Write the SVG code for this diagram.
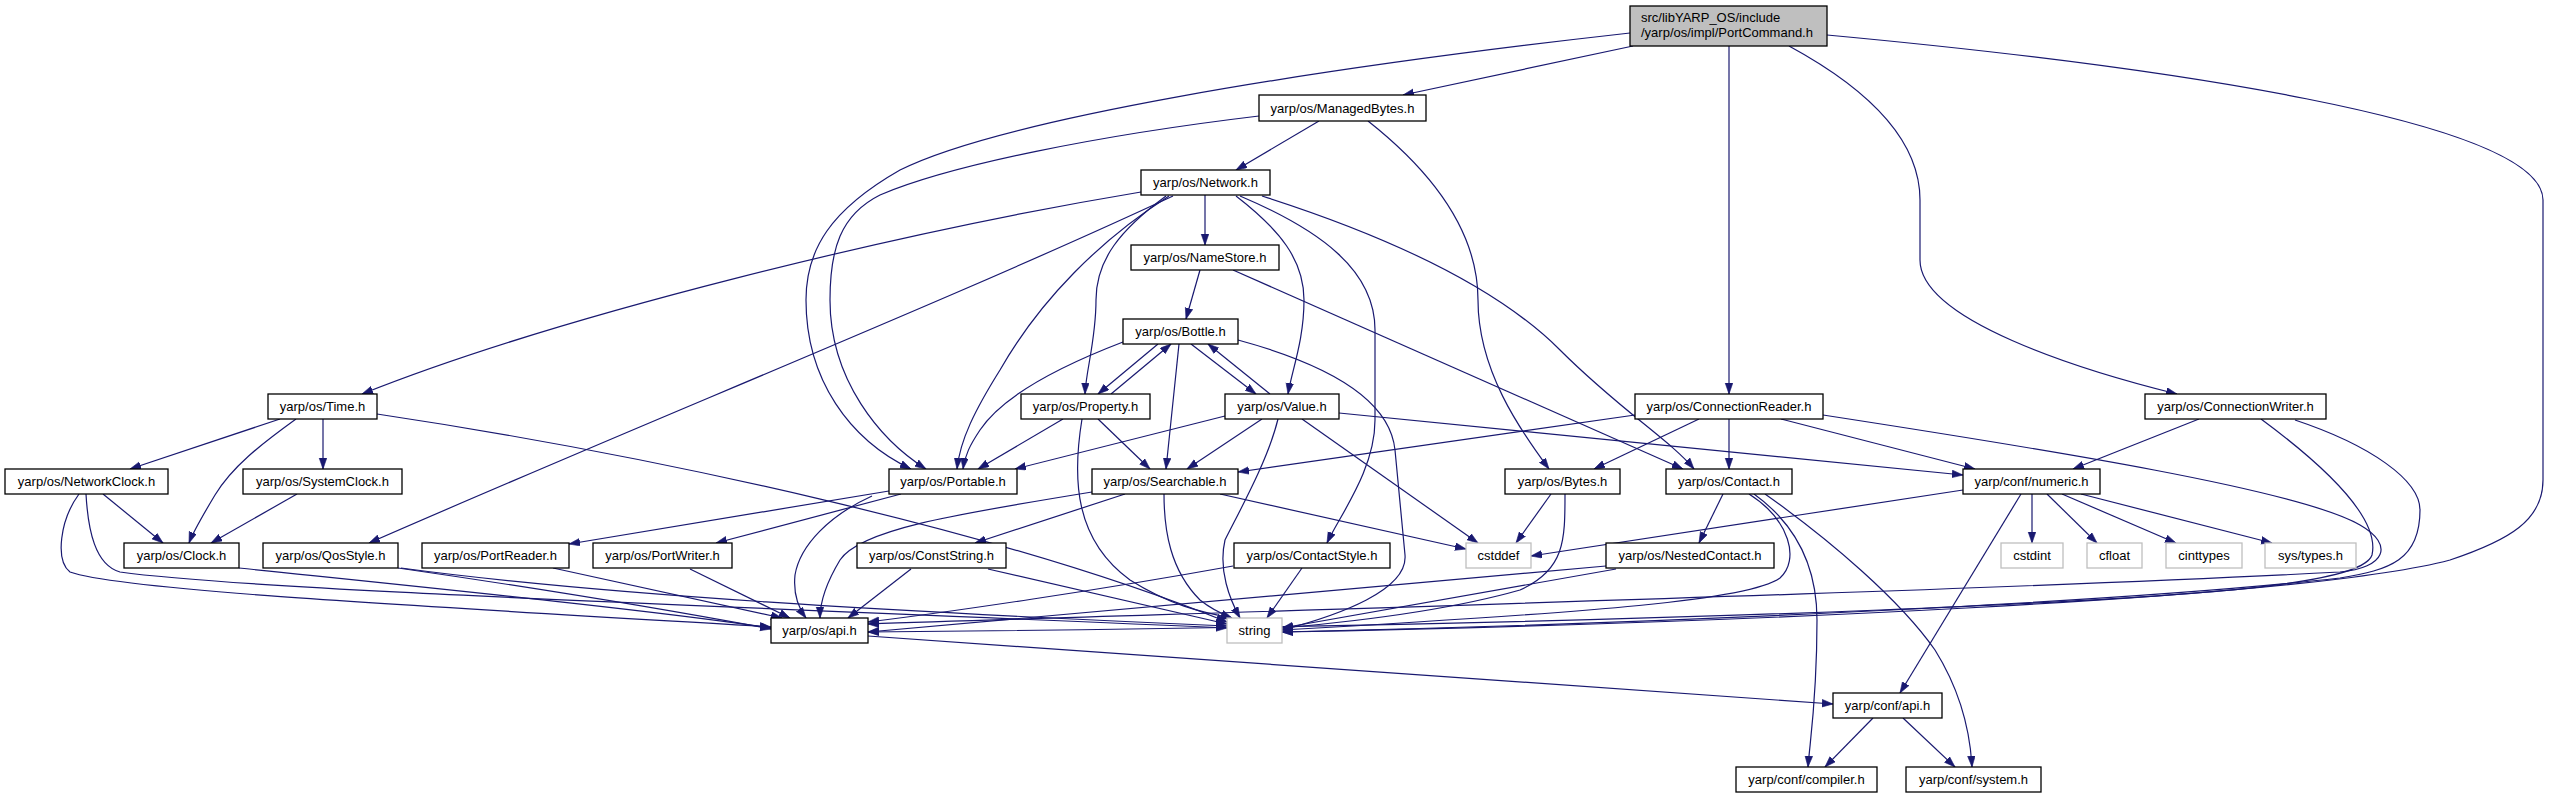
<svg xmlns="http://www.w3.org/2000/svg" width="2551" height="799" viewBox="0 0 2551 799">
<style>
.e{fill:none;stroke:#191970;stroke-width:1.2;marker-end:url(#ah)}
.n rect{fill:#fff;stroke:#000;stroke-width:1.3}
.s rect{fill:#fff;stroke:#bfbfbf;stroke-width:1.3}
.r rect{fill:#bfbfbf;stroke:#000;stroke-width:1.3}
text{font-family:"Liberation Sans",Arial,Helvetica,sans-serif;font-size:13px;fill:#000;text-anchor:middle}
.r text{text-anchor:start}
</style>
<defs>
<marker id="ah" markerWidth="12" markerHeight="9" refX="11" refY="4" orient="auto" markerUnits="userSpaceOnUse">
<path d="M0,0.2 L11,4 L0,7.8 z" fill="#191970" stroke="#191970" stroke-width="0.6"/>
</marker>
</defs>
<rect width="2551" height="799" fill="#fff"/>
<g id="connectors">
<path class="e" d="M1633,46 L1403,95"/>
<path class="e" d="M1630,33 C1300,70 1000,120 900,170 C830,210 806,250 806,300 C806,380 850,440 911,469"/>
<path class="e" d="M1729,46 L1729,394"/>
<path class="e" d="M1789,46 C1870,90 1920,140 1920,200 L1920,260 C1920,320 2080,370 2177,394"/>
<path class="e" d="M1827,35 C2150,65 2543,120 2543,200 L2543,480 C2543,520 2510,540 2450,560 C2300,600 1700,624 1282,632"/>
<path class="e" d="M1319,121 L1236,170"/>
<path class="e" d="M1259,116 C1100,135 950,165 880,195 C840,215 830,250 830,300 C830,380 880,440 926,469"/>
<path class="e" d="M1368,121 C1430,170 1478,230 1478,300 C1478,370 1520,430 1549,469"/>
<path class="e" d="M1141,192 C900,232 560,315 362,394"/>
<path class="e" d="M1173,196 C950,300 650,420 369,543"/>
<path class="e" d="M1169,196 C1100,240 1040,300 1000,370 C975,410 960,440 957,469"/>
<path class="e" d="M1166,196 C1120,230 1096,260 1096,300 C1096,340 1086,370 1085,394"/>
<path class="e" d="M1205,195 L1205,245"/>
<path class="e" d="M1236,196 C1280,230 1304,260 1304,300 C1304,340 1292,370 1288,394"/>
<path class="e" d="M1240,196 C1320,230 1375,270 1375,330 L1375,420 C1375,470 1340,515 1327,543"/>
<path class="e" d="M1262,196 C1400,240 1500,290 1560,350 C1620,410 1670,440 1694,469"/>
<path class="e" d="M1200,270 L1186,319"/>
<path class="e" d="M1233,270 L1683,469"/>
<path class="e" d="M1158,344 L1098,394"/>
<path class="e" d="M1111,394 L1171,344"/>
<path class="e" d="M1191,344 L1256,394"/>
<path class="e" d="M1270,394 L1208,344"/>
<path class="e" d="M1123,342 C1050,370 1000,400 980,430 C970,445 965,455 963,469"/>
<path class="e" d="M1179,344 L1166,469"/>
<path class="e" d="M1238,340 C1330,365 1390,400 1395,450 L1405,555 C1408,590 1340,615 1282,630"/>
<path class="e" d="M1063,419 L978,469"/>
<path class="e" d="M1098,419 L1150,469"/>
<path class="e" d="M1082,419 C1072,480 1075,540 1130,580 C1170,605 1200,612 1232,618"/>
<path class="e" d="M1225,416 L1015,469"/>
<path class="e" d="M1262,419 L1187,469"/>
<path class="e" d="M1278,419 C1268,460 1240,510 1225,540 C1218,570 1230,600 1240,618"/>
<path class="e" d="M1302,419 L1478,543"/>
<path class="e" d="M1339,413 L1963,475"/>
<path class="e" d="M1635,415 L1238,472"/>
<path class="e" d="M1699,419 L1594,469"/>
<path class="e" d="M1729,419 L1729,469"/>
<path class="e" d="M1781,419 L1975,469"/>
<path class="e" d="M1823,415 C2050,450 2300,490 2360,525 C2395,545 2385,568 2340,572 C2000,590 1300,610 868,624"/>
<path class="e" d="M2199,419 L2073,469"/>
<path class="e" d="M2261,419 C2330,470 2380,520 2372,555 C2362,585 2200,597 1880,610 C1500,625 1100,630 868,632"/>
<path class="e" d="M2295,420 C2370,445 2420,480 2420,510 C2420,560 2390,570 2340,578 C2100,605 1600,625 1282,632"/>
<path class="e" d="M1092,492 C950,515 860,530 840,560 C825,585 820,605 820,618"/>
<path class="e" d="M1125,494 L975,543"/>
<path class="e" d="M1164,494 C1164,530 1170,570 1200,600 C1210,608 1222,614 1232,618"/>
<path class="e" d="M1220,494 L1466,549"/>
<path class="e" d="M889,491 L569,544"/>
<path class="e" d="M901,494 L716,543"/>
<path class="e" d="M872,496 C830,515 800,545 795,575 C793,595 800,610 806,618"/>
<path class="e" d="M280,419 L130,469"/>
<path class="e" d="M296,419 C260,445 232,467 215,495 C200,520 192,535 189,543"/>
<path class="e" d="M323,419 L323,469"/>
<path class="e" d="M377,414 C650,455 1000,530 1227,622"/>
<path class="e" d="M103,494 L163,543"/>
<path class="e" d="M79,494 C60,520 55,560 70,572 C120,590 400,605 771,627"/>
<path class="e" d="M86,494 C88,530 95,565 120,572 C250,590 700,605 1227,628"/>
<path class="e" d="M297,494 L211,543"/>
<path class="e" d="M239,568 C450,590 650,610 771,628"/>
<path class="e" d="M398,568 C550,590 680,612 771,629"/>
<path class="e" d="M401,568 C600,595 900,612 1227,626"/>
<path class="e" d="M553,568 L782,618"/>
<path class="e" d="M690,569 L790,618"/>
<path class="e" d="M911,569 L848,618"/>
<path class="e" d="M988,569 L1227,624"/>
<path class="e" d="M1233,566 C1100,590 950,612 868,622"/>
<path class="e" d="M1302,568 L1267,618"/>
<path class="e" d="M1551,494 L1516,543"/>
<path class="e" d="M1565,494 C1565,540 1565,570 1520,590 C1450,610 1350,622 1282,628"/>
<path class="e" d="M1723,494 L1699,543"/>
<path class="e" d="M1749,494 C1790,520 1800,560 1780,578 C1750,600 1600,612 1282,630"/>
<path class="e" d="M1754,494 C1790,520 1817,560 1817,620 C1817,700 1810,740 1808,767"/>
<path class="e" d="M1765,494 C1830,540 1900,600 1935,650 C1960,690 1970,730 1972,767"/>
<path class="e" d="M1606,566 L868,632"/>
<path class="e" d="M1616,569 L1282,628"/>
<path class="e" d="M1963,490 L1531,556"/>
<path class="e" d="M2032,494 L2032,543"/>
<path class="e" d="M2047,494 L2097,543"/>
<path class="e" d="M2062,494 L2176,543"/>
<path class="e" d="M2081,494 L2272,543"/>
<path class="e" d="M2021,494 L1900,693"/>
<path class="e" d="M868,636 L1833,704"/>
<path class="e" d="M1873,718 L1825,767"/>
<path class="e" d="M1903,718 L1955,767"/>
</g>
<g id="n_root" class="r"><rect x="1630" y="6" width="197" height="40"/><text x="1641" y="21.5">src/libYARP_OS/include</text><text x="1641" y="37">/yarp/os/impl/PortCommand.h</text></g>
<g id="n_managedbytes" class="n"><rect x="1259" y="95" width="167" height="26"/><text x="1342.5" y="112.5">yarp/os/ManagedBytes.h</text></g>
<g id="n_network" class="n"><rect x="1141" y="170" width="129" height="25"/><text x="1205.5" y="187">yarp/os/Network.h</text></g>
<g id="n_namestore" class="n"><rect x="1131" y="245" width="148" height="25"/><text x="1205" y="262">yarp/os/NameStore.h</text></g>
<g id="n_bottle" class="n"><rect x="1123" y="319" width="115" height="25"/><text x="1180.5" y="336">yarp/os/Bottle.h</text></g>
<g id="n_time" class="n"><rect x="268" y="394" width="109" height="25"/><text x="322.5" y="411">yarp/os/Time.h</text></g>
<g id="n_property" class="n"><rect x="1021" y="394" width="129" height="25"/><text x="1085.5" y="411">yarp/os/Property.h</text></g>
<g id="n_value" class="n"><rect x="1225" y="394" width="114" height="25"/><text x="1282" y="411">yarp/os/Value.h</text></g>
<g id="n_connectionreader" class="n"><rect x="1635" y="394" width="188" height="25"/><text x="1729" y="411">yarp/os/ConnectionReader.h</text></g>
<g id="n_connectionwriter" class="n"><rect x="2145" y="394" width="181" height="25"/><text x="2235.5" y="411">yarp/os/ConnectionWriter.h</text></g>
<g id="n_networkclock" class="n"><rect x="5" y="469" width="163" height="25"/><text x="86.5" y="486">yarp/os/NetworkClock.h</text></g>
<g id="n_systemclock" class="n"><rect x="243" y="469" width="159" height="25"/><text x="322.5" y="486">yarp/os/SystemClock.h</text></g>
<g id="n_portable" class="n"><rect x="889" y="469" width="128" height="25"/><text x="953" y="486">yarp/os/Portable.h</text></g>
<g id="n_searchable" class="n"><rect x="1092" y="469" width="146" height="25"/><text x="1165" y="486">yarp/os/Searchable.h</text></g>
<g id="n_bytes" class="n"><rect x="1505" y="469" width="115" height="25"/><text x="1562.5" y="486">yarp/os/Bytes.h</text></g>
<g id="n_contact" class="n"><rect x="1666" y="469" width="126" height="25"/><text x="1729" y="486">yarp/os/Contact.h</text></g>
<g id="n_numeric" class="n"><rect x="1963" y="469" width="137" height="25"/><text x="2031.5" y="486">yarp/conf/numeric.h</text></g>
<g id="n_clock" class="n"><rect x="124" y="543" width="115" height="25"/><text x="181.5" y="560">yarp/os/Clock.h</text></g>
<g id="n_qosstyle" class="n"><rect x="263" y="543" width="135" height="25"/><text x="330.5" y="560">yarp/os/QosStyle.h</text></g>
<g id="n_portreader" class="n"><rect x="422" y="543" width="147" height="25"/><text x="495.5" y="560">yarp/os/PortReader.h</text></g>
<g id="n_portwriter" class="n"><rect x="593" y="543" width="139" height="25"/><text x="662.5" y="560">yarp/os/PortWriter.h</text></g>
<g id="n_conststring" class="n"><rect x="857" y="543" width="149" height="25"/><text x="931.5" y="560">yarp/os/ConstString.h</text></g>
<g id="n_contactstyle" class="n"><rect x="1234" y="543" width="156" height="25"/><text x="1312" y="560">yarp/os/ContactStyle.h</text></g>
<g id="n_cstddef" class="s"><rect x="1466" y="543" width="65" height="25"/><text x="1498.5" y="560">cstddef</text></g>
<g id="n_nestedcontact" class="n"><rect x="1606" y="543" width="168" height="25"/><text x="1690" y="560">yarp/os/NestedContact.h</text></g>
<g id="n_cstdint" class="s"><rect x="2001" y="543" width="62" height="25"/><text x="2032" y="560">cstdint</text></g>
<g id="n_cfloat" class="s"><rect x="2087" y="543" width="55" height="25"/><text x="2114.5" y="560">cfloat</text></g>
<g id="n_cinttypes" class="s"><rect x="2166" y="543" width="76" height="25"/><text x="2204" y="560">cinttypes</text></g>
<g id="n_systypes" class="s"><rect x="2265" y="543" width="91" height="25"/><text x="2310.5" y="560">sys/types.h</text></g>
<g id="n_osapi" class="n"><rect x="771" y="618" width="97" height="25"/><text x="819.5" y="635">yarp/os/api.h</text></g>
<g id="n_string" class="s"><rect x="1227" y="618" width="55" height="25"/><text x="1254.5" y="635">string</text></g>
<g id="n_confapi" class="n"><rect x="1833" y="693" width="109" height="25"/><text x="1887.5" y="710">yarp/conf/api.h</text></g>
<g id="n_compiler" class="n"><rect x="1736" y="767" width="141" height="25"/><text x="1806.5" y="784">yarp/conf/compiler.h</text></g>
<g id="n_system" class="n"><rect x="1906" y="767" width="135" height="25"/><text x="1973.5" y="784">yarp/conf/system.h</text></g>
</svg>
